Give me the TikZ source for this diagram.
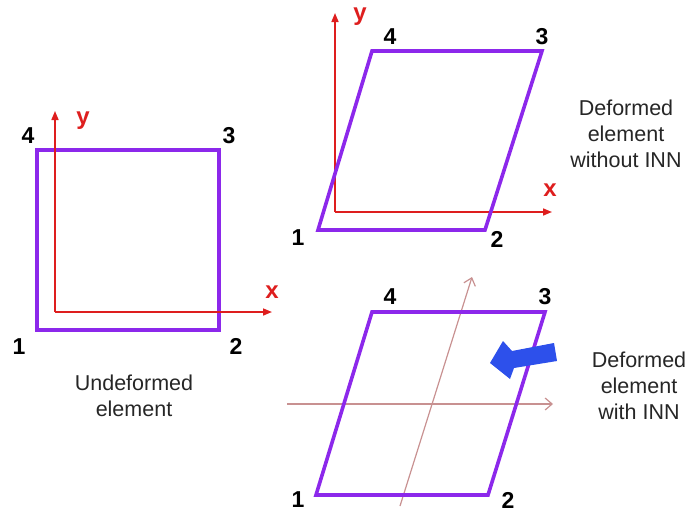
\documentclass[tikz,border=0pt]{standalone}
\usepackage{fontspec}
\setmainfont{Liberation Sans}
\usetikzlibrary{arrows.meta}
\definecolor{elem}{RGB}{140,40,235}
\definecolor{axred}{RGB}{222,30,30}
\definecolor{axpink}{RGB}{200,145,145}
\definecolor{fatblue}{RGB}{45,80,235}
\tikzset{
  elemline/.style={draw=elem, line width=3.6pt, line join=miter},
  redaxis/.style={draw=axred, line width=1.6pt, -{Triangle[length=9pt,width=7pt]}},
  pinkaxis/.style={draw=axpink, line width=1.2pt, -{Straight Barb[length=7pt,width=12pt]}},
  num/.style={font=\fontsize{23}{23}\selectfont\bfseries, text=black, inner sep=0pt},
  axlabel/.style={font=\fontsize{24}{24}\selectfont\bfseries, text=axred, inner sep=0pt},
  caption/.style={font=\fontsize{21.5}{26}\selectfont, align=center, text=black!85, inner sep=0pt}
}
\begin{document}
\begin{tikzpicture}[x=1pt,y=-1pt]
\useasboundingbox (0,0) rectangle (693,514);
% ---------- undeformed element ----------
\coordinate (a1) at (37,330);
\coordinate (a2) at (219,330);
\coordinate (a3) at (219,150);
\coordinate (a4) at (37,150);
\draw[elemline] (a1) -- (a2) -- (a3) -- (a4) -- cycle;
\coordinate (ao) at (55,312);
\coordinate (ax) at (272,312);
\coordinate (ay) at (55,111);
\draw[redaxis] (ao) -- (ax);
\draw[redaxis] (ao) -- (ay);
\node[axlabel] (alx) at (272,292) {x};
\node[axlabel] (aly) at (83,121) {y};
\node[num] (an4) at (28,136) {4};
\node[num] (an3) at (229,136) {3};
\node[num] (an1) at (19,347) {1};
\node[num] (an2) at (236,346) {2};
\node[caption] (acap) at (134,396) {Undeformed\\element};
% ---------- deformed without INN ----------
\coordinate (b1) at (318,230);
\coordinate (b2) at (485,230);
\coordinate (b3) at (542,51);
\coordinate (b4) at (372,51);
\coordinate (bo) at (335,212);
\coordinate (bx) at (552,212);
\coordinate (by) at (335,13);
\draw[redaxis] (bo) -- (bx);
\draw[redaxis] (bo) -- (by);
\draw[elemline] (b1) -- (b2) -- (b3) -- (b4) -- cycle;
\node[axlabel] (blx) at (550,190) {x};
\node[axlabel] (bly) at (360,17) {y};
\node[num] (bn4) at (390,37) {4};
\node[num] (bn3) at (542,37) {3};
\node[num] (bn1) at (298,238) {1};
\node[num] (bn2) at (497,239) {2};
\node[caption] (bcap) at (626,134) {Deformed\\element\\without INN};
% ---------- deformed with INN ----------
\coordinate (c1) at (316,495);
\coordinate (c2) at (488,495);
\coordinate (c3) at (545,312);
\coordinate (c4) at (372,312);
\coordinate (ch0) at (287,404);
\coordinate (ch1) at (553,404);
\coordinate (cv0) at (400,506);
\coordinate (cv1) at (472,277);
\draw[pinkaxis] (ch0) -- (ch1);
\draw[pinkaxis] (cv0) -- (cv1);
\draw[elemline] (c1) -- (c2) -- (c3) -- (c4) -- cycle;
\fill[fatblue] (554,343) -- (557,361) -- (514,368) -- (510,379) -- (490,363) -- (503,341) -- (512,351) -- cycle;
\node[num] (cn4) at (390,297) {4};
\node[num] (cn3) at (545,297) {3};
\node[num] (cn1) at (298,500) {1};
\node[num] (cn2) at (508,500) {2};
\node[caption] (ccap) at (639,386) {Deformed\\element\\with INN};
\end{tikzpicture}
\end{document}
